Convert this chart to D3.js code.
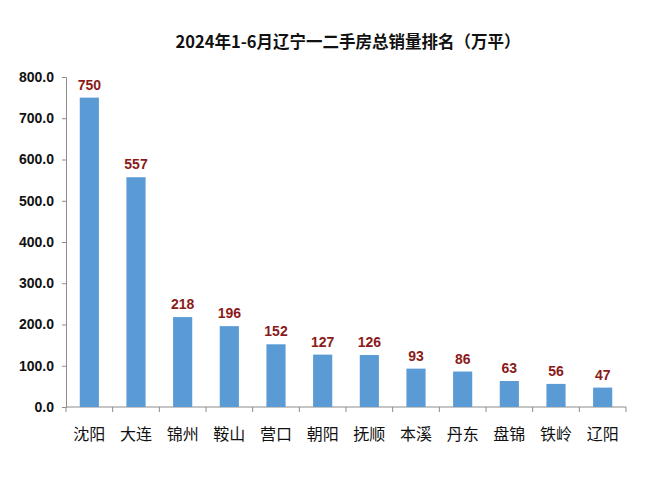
<!DOCTYPE html>
<html><head><meta charset="utf-8">
<script src="https://cdn.jsdelivr.net/npm/d3@7"></script>
<style>body{margin:0;background:#fff;}</style>
</head><body>
<svg id="c" width="660" height="481"></svg>
<script>
const title = "2024年1-6月辽宁一二手房总销量排名（万平）";
const cities = ["沈阳","大连","锦州","鞍山","营口","朝阳","抚顺","本溪","丹东","盘锦","铁岭","辽阳"];
const values = [750,557,218,196,152,127,126,93,86,63,56,47];
const yTicks = [0,100,200,300,400,500,600,700,800];

(function(){
const svg = d3.select("#c");
const pL = 66, pR = 626, pT = 77, pB = 407;
const x = d3.scaleBand().domain(cities).range([pL, pR]).padding(0);
const y = d3.scaleLinear().domain([0, 800]).range([pB, pT]);
const axisColor = "#8c8c8c";

svg.append("text").attr("x", 348).attr("y", 48).attr("text-anchor","middle")
  .attr("font-family","'Noto Sans CJK SC', sans-serif").attr("font-weight","bold")
  .attr("font-size", 16.5).attr("fill","#111").text(title);

// y axis
const ya = svg.append("g").attr("transform",`translate(${pL},0)`)
  .call(d3.axisLeft(y).tickValues(yTicks).tickSize(4).tickPadding(8).tickFormat(d3.format(".1f")));
ya.select(".domain").attr("stroke", axisColor);
ya.selectAll(".tick line").attr("stroke", axisColor);
ya.selectAll("text").attr("font-family","'Liberation Sans', Arial, sans-serif")
  .attr("font-weight","bold").attr("font-size",14).attr("fill","#111");

// x axis
const xa = svg.append("g").attr("transform",`translate(0,${pB})`)
  .call(d3.axisBottom(x).tickSize(0).tickPadding(22));
xa.select(".domain").attr("stroke", axisColor).attr("d", `M${pL},0H${pR}`);
xa.selectAll("text").attr("font-family","'Noto Sans CJK SC', sans-serif")
  .attr("font-size",16).attr("fill","#111");
const bounds = cities.map(c => x(c)).concat([pR]);
xa.selectAll(".btick").data(bounds).enter().append("line")
  .attr("x1", d => d).attr("x2", d => d).attr("y1", 0).attr("y2", 5)
  .attr("stroke", axisColor);

// bars
const bw = x.bandwidth() * 0.41;
svg.selectAll(".bar").data(values).enter().append("rect")
  .attr("x", (d,i) => x(cities[i]) + x.bandwidth()/2 - bw/2)
  .attr("y", d => y(d)).attr("width", bw).attr("height", d => pB - y(d))
  .attr("fill", "#5b9bd5");

// value labels
svg.selectAll(".lbl").data(values).enter().append("text")
  .attr("x", (d,i) => x(cities[i]) + x.bandwidth()/2)
  .attr("y", d => y(d) - 8).attr("text-anchor","middle")
  .attr("font-family","'Liberation Sans', Arial, sans-serif").attr("font-weight","bold")
  .attr("font-size",14).attr("fill","#8b1a1a").text(d => d);
})();
</script>
</body></html>
